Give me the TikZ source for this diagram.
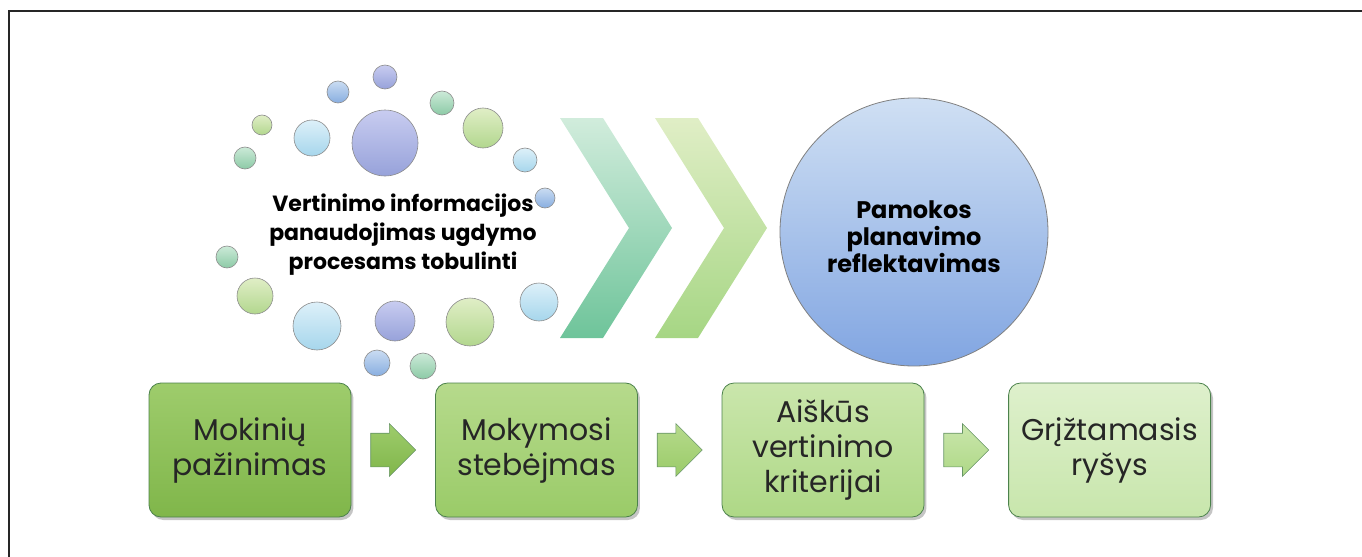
\documentclass[tikz,border=0pt]{standalone}
\usepackage{fontspec}
\setmainfont{Poppins}
\usetikzlibrary{positioning,shapes.arrows,shadows}
\definecolor{lavT}{HTML}{C8CCF0}\definecolor{lavB}{HTML}{97A2DA}
\definecolor{bluT}{HTML}{CADCF2}\definecolor{bluB}{HTML}{88AEE0}
\definecolor{teaT}{HTML}{CCEAD8}\definecolor{teaB}{HTML}{8CCAA6}
\definecolor{ygrT}{HTML}{E0EEC6}\definecolor{ygrB}{HTML}{B2D78E}
\definecolor{cyaT}{HTML}{DDF0F9}\definecolor{cyaB}{HTML}{A6D6EC}
\definecolor{s1T}{HTML}{9ECC6C}\definecolor{s1B}{HTML}{80B64A}
\definecolor{s2T}{HTML}{B6DA8C}\definecolor{s2B}{HTML}{9ACB68}
\definecolor{s3T}{HTML}{CAE6AC}\definecolor{s3B}{HTML}{AED886}
\definecolor{s4T}{HTML}{DEF0CC}\definecolor{s4B}{HTML}{C8E6AC}
\definecolor{chev1B}{HTML}{6EC49A}\definecolor{chev2B}{HTML}{A6D684}
\newcommand\bubble[4]{\node(#1)[bubble,top color=#4T,bottom color=#4B,minimum size=#3pt] at #2 {};}

\begin{document}
\begin{tikzpicture}[x=0.5pt,y=-0.5pt,
    bubble/.style={circle,draw=black!45,line width=0.3pt,inner sep=0pt},
    stepbox/.style={rounded corners=6pt,draw=green!30!black!70,line width=0.4pt,
        minimum width=101pt,minimum height=67pt,inner sep=2pt,align=center,
        font=\fontsize{15}{17.5}\selectfont,text=black!85,
        top color=#1T,bottom color=#1B,
        drop shadow={shadow xshift=1.2pt,shadow yshift=-1.5pt,fill=black!45}},
    steparrow/.style={single arrow,single arrow head extend=4.75pt,inner xsep=0pt,
        inner ysep=8.25pt,minimum height=22.5pt,draw=green!30!black!60,line width=0.3pt,
        top color=#1T,bottom color=#1B},
    bigtext/.style={align=center,font=\bfseries\fontsize{11}{14.5}\selectfont}]
\useasboundingbox (0,0) rectangle (1362,557);
\draw[line width=1pt,black!85] (9,11) rectangle (1390,590);

% bubbles round the left text
\bubble{c1}{(385,77)}{12}{lav}
\bubble{c2}{(338,92)}{11}{blu}
\bubble{c3}{(442,103)}{12}{tea}
\bubble{c4}{(262,125)}{10}{ygr}
\bubble{c5}{(312,138)}{18}{cya}
\bubble{c6}{(385,143)}{33}{lav}
\bubble{c7}{(483,128)}{20}{ygr}
\bubble{c8}{(245,158)}{11}{tea}
\bubble{c9}{(525,160)}{12}{cya}
\bubble{c10}{(545,198)}{10}{blu}
\bubble{c11}{(227,257)}{11}{tea}
\bubble{c12}{(255,296)}{18}{ygr}
\bubble{c13}{(539,302)}{19}{cya}
\bubble{c14}{(317,326)}{24}{cya}
\bubble{c15}{(395,321)}{20}{lav}
\bubble{c16}{(470,322)}{24}{ygr}
\bubble{c17}{(377,363)}{13}{blu}
\bubble{c18}{(423,366)}{13}{tea}
\node(info)[bigtext] at (403,235) {Vertinimo informacijos\\panaudojimas ugdymo\\procesams tobulinti};

% chevrons
\shade[top color=teaT!90!white,bottom color=chev1B] (560,118) -- (603,118) -- (672,228) -- (603,338) -- (560,338) -- (629,228) -- cycle;
\shade[top color=ygrT,bottom color=chev2B] (655,118) -- (698,118) -- (767,228) -- (698,338) -- (655,338) -- (724,228) -- cycle;

\node(plan)[circle,draw=black!50,line width=0.4pt,minimum size=134pt,inner sep=0pt,
    top color=bluT!90!white,bottom color=bluB!95!blue] at (914,232) {};
\node[bigtext,font=\bfseries\fontsize{12}{13.5}\selectfont,yshift=-2.5pt] at (plan.center) {Pamokos\\planavimo\\reflektavimas};

% steps
\node(b1)[stepbox=s1] at (250,450) {Mokinių\\pažinimas};
\node(r1)[steparrow=s1,right=9.5pt of b1] {};
\node(b2)[stepbox=s2,right=9.5pt of r1] {Mokymosi\\stebėjmas};
\node(r2)[steparrow=s2,right=9.5pt of b2] {};
\node(b3)[stepbox=s3,right=9.5pt of r2] {Aiškūs\\vertinimo\\kriterijai};
\node(r3)[steparrow=s3,right=9.5pt of b3] {};
\node(b4)[stepbox=s4,right=9.5pt of r3] {Grįžtamasis\\ryšys};
\end{tikzpicture}
\end{document}
